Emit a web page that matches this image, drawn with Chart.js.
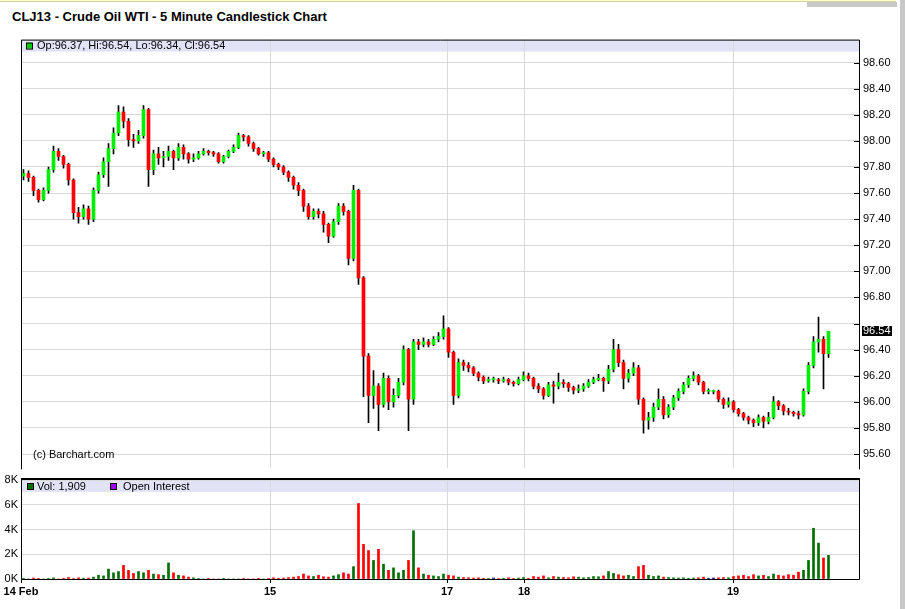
<!DOCTYPE html>
<html lang="en">
<head>
<meta charset="UTF-8">
<title>CLJ13 - Crude Oil WTI - 5 Minute Candlestick Chart</title>
<script src="https://cdn.jsdelivr.net/npm/chart.js"></script>
<style>
    body { margin: 0; width: 905px; height: 609px; background: #fff; position: relative; overflow: hidden; font-family: 'Liberation Sans', Arial, sans-serif; }
    .topbar { position: absolute; left: 0; top: 0; width: 896px; height: 1px; background: #ffffcc; border-bottom: 1px solid #d6d2a8; }
    .shadow { position: absolute; left: 807px; top: 2px; width: 90px; height: 5px; background: #c8c8c8; }
    .sidebar { position: absolute; left: 900px; top: 0; width: 5px; height: 609px; background: #c8c8c8; }
    h1 { position: absolute; left: 12px; top: 9px; margin: 0; font-size: 13px; font-weight: bold; color: #000; }
    #priceChart { position: absolute; left: 0; top: 29px; }
    #volChart { position: absolute; left: 0; top: 470px; }
</style>
</head>
<body>
    <div class="topbar"></div>
    <div class="shadow"></div>
    <div class="sidebar"></div>
    <h1>CLJ13 - Crude Oil WTI - 5 Minute Candlestick Chart</h1>
    <canvas id="priceChart" width="905" height="450"></canvas>
    <canvas id="volChart" width="905" height="139"></canvas>

<script>
// 5 minute candles, one per slot
const opens = [
    97.73, 97.75, 97.72, 97.62, 97.55, 97.62, 97.78, 97.92, 97.88, 97.82,
    97.70, 97.45, 97.42, 97.48, 97.40, 97.62, 97.74, 97.84, 97.94, 98.06,
    98.22, 98.15, 98.01, 98.00, 98.04, 98.24, 97.78, 97.90, 97.87, 97.88,
    97.92, 97.87, 97.95, 97.90, 97.86, 97.87, 97.90, 97.92, 97.91, 97.90,
    97.84, 97.88, 97.92, 97.95, 98.04, 98.03, 97.98, 97.94, 97.90, 97.91,
    97.86, 97.82, 97.80, 97.76, 97.72, 97.66, 97.62, 97.50, 97.42, 97.46,
    97.44, 97.36, 97.27, 97.38, 97.50, 97.46, 97.10, 97.62, 96.95, 96.35,
    96.05, 96.12, 95.98, 96.18, 96.00, 96.05, 96.15, 96.40, 96.02, 96.46,
    96.44, 96.46, 96.44, 96.48, 96.50, 96.56, 96.38, 96.05, 96.30, 96.28,
    96.26, 96.22, 96.19, 96.16, 96.17, 96.17, 96.16, 96.17, 96.15, 96.14,
    96.17, 96.20, 96.18, 96.12, 96.10, 96.05, 96.13, 96.12, 96.15, 96.14,
    96.11, 96.09, 96.10, 96.12, 96.15, 96.17, 96.18, 96.16, 96.25, 96.40,
    96.30, 96.18, 96.22, 96.26, 96.02, 95.86, 95.88, 95.96, 96.02, 95.90,
    95.96, 96.03, 96.08, 96.13, 96.18, 96.20, 96.15, 96.08, 96.08, 96.08,
    96.02, 95.98, 96.00, 95.94, 95.91, 95.88, 95.86, 95.84, 95.88, 95.85,
    95.88, 96.00, 95.97, 95.93, 95.92, 95.91, 95.90, 96.08, 96.28, 96.46,
    96.48, 96.37
];
const closes = [
    97.75, 97.72, 97.62, 97.55, 97.62, 97.78, 97.92, 97.88, 97.82, 97.70,
    97.45, 97.42, 97.48, 97.40, 97.62, 97.74, 97.84, 97.94, 98.06, 98.22,
    98.15, 98.01, 98.00, 98.04, 98.24, 97.78, 97.90, 97.87, 97.88, 97.92,
    97.87, 97.95, 97.90, 97.86, 97.87, 97.90, 97.92, 97.91, 97.90, 97.84,
    97.88, 97.92, 97.95, 98.04, 98.03, 97.98, 97.94, 97.90, 97.91, 97.86,
    97.82, 97.80, 97.76, 97.72, 97.66, 97.62, 97.50, 97.42, 97.46, 97.44,
    97.36, 97.27, 97.38, 97.50, 97.46, 97.10, 97.62, 96.95, 96.35, 96.05,
    96.12, 95.98, 96.18, 96.00, 96.05, 96.15, 96.40, 96.02, 96.46, 96.44,
    96.46, 96.44, 96.48, 96.50, 96.56, 96.38, 96.05, 96.30, 96.28, 96.26,
    96.22, 96.19, 96.16, 96.17, 96.17, 96.16, 96.17, 96.15, 96.14, 96.17,
    96.20, 96.18, 96.12, 96.10, 96.05, 96.13, 96.12, 96.15, 96.14, 96.11,
    96.09, 96.10, 96.12, 96.15, 96.17, 96.18, 96.16, 96.25, 96.40, 96.30,
    96.18, 96.22, 96.26, 96.02, 95.86, 95.88, 95.96, 96.02, 95.90, 95.96,
    96.03, 96.08, 96.13, 96.18, 96.20, 96.15, 96.08, 96.08, 96.08, 96.02,
    95.98, 96.00, 95.94, 95.91, 95.88, 95.86, 95.84, 95.88, 95.85, 95.88,
    96.00, 95.97, 95.93, 95.92, 95.91, 95.90, 96.08, 96.28, 96.46, 96.48,
    96.37, 96.54
];
const highs = [
    97.78, 97.77, 97.73, 97.63, 97.64, 97.80, 97.96, 97.94, 97.89, 97.83,
    97.71, 97.49, 97.51, 97.50, 97.64, 97.76, 97.87, 97.98, 98.10, 98.27,
    98.26, 98.17, 98.05, 98.08, 98.27, 98.25, 97.93, 97.95, 97.92, 97.96,
    97.93, 97.98, 97.97, 97.91, 97.90, 97.92, 97.94, 97.93, 97.92, 97.91,
    97.89, 97.93, 97.97, 98.06, 98.05, 98.04, 97.99, 97.95, 97.92, 97.92,
    97.87, 97.83, 97.81, 97.77, 97.73, 97.68, 97.63, 97.52, 97.48, 97.48,
    97.46, 97.37, 97.40, 97.52, 97.52, 97.47, 97.66, 97.63, 96.96, 96.37,
    96.24, 96.14, 96.22, 96.20, 96.10, 96.18, 96.43, 96.41, 96.48, 96.48,
    96.49, 96.48, 96.50, 96.53, 96.66, 96.57, 96.39, 96.33, 96.32, 96.30,
    96.27, 96.23, 96.20, 96.19, 96.19, 96.18, 96.19, 96.18, 96.16, 96.19,
    96.23, 96.22, 96.19, 96.14, 96.11, 96.15, 96.16, 96.22, 96.17, 96.15,
    96.12, 96.13, 96.14, 96.17, 96.19, 96.21, 96.19, 96.28, 96.48, 96.44,
    96.32, 96.25, 96.30, 96.28, 96.03, 95.92, 95.99, 96.10, 96.04, 95.98,
    96.05, 96.10, 96.15, 96.20, 96.23, 96.21, 96.16, 96.10, 96.09, 96.09,
    96.03, 96.03, 96.01, 95.95, 95.92, 95.89, 95.87, 95.90, 95.89, 95.92,
    96.04, 96.01, 95.98, 95.95, 95.93, 95.93, 96.10, 96.30, 96.50, 96.65,
    96.50, 96.54
];
const lows = [
    97.70, 97.69, 97.58, 97.53, 97.54, 97.60, 97.76, 97.85, 97.79, 97.66,
    97.40, 97.37, 97.40, 97.36, 97.38, 97.60, 97.72, 97.65, 97.90, 98.04,
    98.10, 97.96, 97.95, 97.98, 98.02, 97.65, 97.74, 97.82, 97.80, 97.85,
    97.78, 97.85, 97.86, 97.83, 97.84, 97.86, 97.89, 97.89, 97.88, 97.83,
    97.83, 97.87, 97.91, 97.94, 98.00, 97.96, 97.92, 97.89, 97.88, 97.84,
    97.80, 97.78, 97.74, 97.69, 97.63, 97.58, 97.46, 97.40, 97.40, 97.41,
    97.30, 97.22, 97.26, 97.36, 97.43, 97.05, 97.08, 96.90, 96.04, 95.84,
    95.95, 95.78, 95.96, 95.94, 95.96, 96.03, 96.13, 95.78, 95.98, 96.40,
    96.42, 96.42, 96.43, 96.46, 96.48, 96.34, 95.98, 96.03, 96.24, 96.23,
    96.20, 96.16, 96.14, 96.15, 96.15, 96.14, 96.15, 96.13, 96.12, 96.13,
    96.16, 96.16, 96.10, 96.07, 96.02, 96.04, 95.99, 96.10, 96.11, 96.08,
    96.06, 96.07, 96.08, 96.11, 96.14, 96.16, 96.08, 96.14, 96.23, 96.27,
    96.10, 96.15, 96.20, 95.98, 95.76, 95.79, 95.85, 95.94, 95.87, 95.88,
    95.94, 96.01, 96.06, 96.11, 96.16, 96.13, 96.06, 96.06, 96.06, 96.00,
    95.95, 95.96, 95.92, 95.89, 95.86, 95.83, 95.81, 95.82, 95.80, 95.83,
    95.87, 95.94, 95.90, 95.90, 95.89, 95.87, 95.89, 96.06, 96.26, 96.38,
    96.10, 96.34
];
const volumes = [
    60, 0, 80, 50, 0, 40, 90, 0, 60, 120,
    40, 100, 70, 80, 150, 300, 250, 800, 500, 600,
    1100, 700, 450, 600, 500, 700, 400, 350, 300, 1300,
    500, 300, 250, 150, 100, 40, 0, 30, 0, 0,
    20, 0, 0, 0, 50, 0, 0, 20, 0, 30,
    100, 60, 80, 120, 150, 200, 400, 250, 200, 300,
    180, 150, 250, 350, 500, 400, 1000, 6100, 2800, 2300,
    1500, 2400, 1200, 700, 900, 500, 700, 1500, 3900, 900,
    400, 300, 250, 200, 400, 300, 250, 150, 120, 100,
    80, 100, 60, 50, 80, 40, 60, 100, 50, 80,
    120, 60, 200, 150, 250, 100, 200, 150, 120, 100,
    180, 150, 100, 120, 200, 180, 250, 600, 450, 350,
    250, 300, 200, 1000, 1100, 300, 200, 250, 150, 120,
    100, 80, 100, 60, 80, 100, 150, 60, 80, 100,
    120, 100, 200, 250, 300, 200, 350, 250, 300, 200,
    400, 300, 250, 350, 300, 550, 700, 1500, 4100, 2900,
    1700, 1909
];

const priceTicks = [95.6, 95.8, 96.0, 96.2, 96.4, 96.6, 96.8, 97.0, 97.2, 97.4, 97.6, 97.8, 98.0, 98.2, 98.4, 98.6];
const volumeTicks = [0, 2000, 4000, 6000, 8000];
const dateLabels = ['14 Feb', '15', '17', '18', '19'];
const dateSlots = [0, 49.8, 85.2, 100.6, 142.4];

const FONT = "'Liberation Sans', Arial, sans-serif";
const UP = '#00ee00', DOWN = '#ff0000';
const VOL_UP = '#006e00', VOL_DOWN = '#ff0000', VOL_FLAT = '#000080';
const GRID = '#d9d9d9', STRIP = '#e3e3f8';
const last = closes.length - 1;

Chart.defaults.font.family = FONT;
Chart.defaults.font.size = 11;
Chart.defaults.color = '#000';

const bodies = closes.map((c, i) => ({ x: i + 0.5, y: [opens[i], c] }));
const wicks = closes.map((c, i) => ({ x: i + 0.5, y: [lows[i], highs[i]] }));
const bodyColors = closes.map((c, i) => c >= opens[i] ? UP : DOWN);
const volBars = volumes.map((v, i) => ({ x: i + 0.5, y: v }));
const volColors = closes.map((c, i) => c > opens[i] ? VOL_UP : (c < opens[i] ? VOL_DOWN : VOL_FLAT));

function dateAxis(showLabels) {
    return {
        type: 'linear', min: 0, max: 167.6, offset: false,
        afterBuildTicks: s => { s.ticks = dateSlots.map(v => ({ value: v })); },
        afterFit: s => { s.height = showLabels ? 30 : 0; },
        ticks: {
            display: showLabels, autoSkip: false, maxRotation: 0, padding: 2,
            font: { family: FONT, size: 11, weight: 'bold' },
            callback: (v, i) => dateLabels[i]
        },
        grid: { offset: false, color: GRID, drawTicks: showLabels, tickLength: 4, tickColor: '#000' },
        border: { display: false }
    };
}

function square(ctx, x, y, color) {
    ctx.fillStyle = color;
    ctx.fillRect(x, y, 6, 6);
    ctx.strokeStyle = '#000';
    ctx.lineWidth = 1;
    ctx.strokeRect(x + 0.5, y + 0.5, 6, 6);
}

const pricePanel = {
    id: 'pricePanel',
    beforeDraw(chart) {
        const { ctx, chartArea: a } = chart;
        ctx.save();
        ctx.fillStyle = STRIP;
        ctx.fillRect(a.left, a.top, a.right - a.left, 12);
        ctx.restore();
    },
    afterDraw(chart) {
        const { ctx, chartArea: a } = chart;
        const y = chart.scales.y;
        ctx.save();
        // frame
        ctx.strokeStyle = '#000';
        ctx.lineWidth = 1;
        ctx.beginPath();
        ctx.moveTo(a.left + 0.5, a.bottom + 1);
        ctx.lineTo(a.left + 0.5, a.top + 0.5);
        ctx.lineTo(a.right + 0.5, a.top + 0.5);
        ctx.lineTo(a.right + 0.5, a.bottom + 1);
        ctx.stroke();
        // tick marks pointing inwards
        ctx.beginPath();
        priceTicks.forEach(v => {
            const py = Math.round(y.getPixelForValue(v)) + 0.5;
            ctx.moveTo(a.right - 5, py);
            ctx.lineTo(a.right, py);
        });
        ctx.stroke();
        // legend
        square(ctx, a.left + 5, a.top + 3, '#00cc00');
        ctx.fillStyle = '#000';
        ctx.font = '11px ' + FONT;
        ctx.textBaseline = 'middle';
        ctx.fillText('Op:' + opens[last].toFixed(2) + ', Hi:' + highs[last].toFixed(2) +
            ', Lo:' + lows[last].toFixed(2) + ', Cl:' + closes[last].toFixed(2), a.left + 16, a.top + 6.5);
        ctx.fillText('(c) Barchart.com', a.left + 12, a.bottom - 13);
        // last price marker
        const ly = Math.round(y.getPixelForValue(closes[last]));
        const label = closes[last].toFixed(2);
        const w = Math.ceil(ctx.measureText(label).width) + 2;
        ctx.fillStyle = '#000';
        ctx.fillRect(a.right + 3, ly - 5, w, 10);
        ctx.fillStyle = '#fff';
        ctx.fillText(label, a.right + 4, ly);
        ctx.restore();
    }
};

const volPanel = {
    id: 'volPanel',
    beforeDraw(chart) {
        const { ctx, chartArea: a } = chart;
        ctx.save();
        ctx.fillStyle = STRIP;
        ctx.fillRect(a.left, a.top, a.right - a.left, 12);
        ctx.restore();
    },
    afterDraw(chart) {
        const { ctx, chartArea: a } = chart;
        ctx.save();
        ctx.fillStyle = '#000';
        ctx.fillRect(a.left, a.top - 2, a.right - a.left + 1, 2);
        ctx.strokeStyle = '#000';
        ctx.lineWidth = 1;
        ctx.beginPath();
        ctx.moveTo(a.left + 0.5, a.top - 2);
        ctx.lineTo(a.left + 0.5, a.bottom + 0.5);
        ctx.lineTo(a.right + 0.5, a.bottom + 0.5);
        ctx.lineTo(a.right + 0.5, a.top - 2);
        ctx.stroke();
        square(ctx, a.left + 6, a.top + 3, VOL_UP);
        square(ctx, a.left + 89, a.top + 3, '#9900ff');
        ctx.fillStyle = '#000';
        ctx.font = '11px ' + FONT;
        ctx.textBaseline = 'middle';
        ctx.fillText('Vol: ' + volumes[last].toLocaleString('en-US'), a.left + 16, a.top + 6.5);
        ctx.fillText('Open Interest', a.left + 102, a.top + 6.5);
        ctx.restore();
    }
};

new Chart(document.getElementById('priceChart'), {
    type: 'bar',
    data: {
        datasets: [
            { data: bodies, backgroundColor: bodyColors, barThickness: 3, minBarLength: 1, grouped: false, borderWidth: 0 },
            { data: wicks, backgroundColor: '#000', barThickness: 1, grouped: false, borderWidth: 0 }
        ]
    },
    options: {
        responsive: false, animation: false, events: [],
        layout: { padding: { left: 21, top: 0, right: 0, bottom: 1 } },
        plugins: { legend: { display: false }, tooltip: { enabled: false } },
        scales: {
            x: dateAxis(false),
            y: {
                position: 'right', min: 95.49, max: 98.776,
                afterBuildTicks: s => { s.ticks = priceTicks.map(v => ({ value: v })); },
                afterFit: s => { s.width = 46; },
                ticks: { padding: 4, callback: v => Math.abs(v - closes[last]) < 0.1 ? '' : v.toFixed(2) },
                grid: { color: GRID, drawTicks: false },
                border: { display: false }
            }
        }
    },
    plugins: [pricePanel]
});

new Chart(document.getElementById('volChart'), {
    type: 'bar',
    data: {
        datasets: [
            { data: volBars, backgroundColor: volColors, barThickness: 2, borderWidth: 0 }
        ]
    },
    options: {
        responsive: false, animation: false, events: [],
        layout: { padding: { left: 0, top: 10, right: 46, bottom: 0 } },
        plugins: { legend: { display: false }, tooltip: { enabled: false } },
        scales: {
            x: dateAxis(true),
            y: {
                position: 'left', min: 0, max: 8000,
                afterBuildTicks: s => { s.ticks = volumeTicks.map(v => ({ value: v })); },
                afterFit: s => { s.width = 21; },
                ticks: { padding: 3, callback: v => (v / 1000) + 'K' },
                grid: { color: GRID, drawTicks: false },
                border: { display: false }
            }
        }
    },
    plugins: [volPanel]
});
</script>
</body>
</html>
